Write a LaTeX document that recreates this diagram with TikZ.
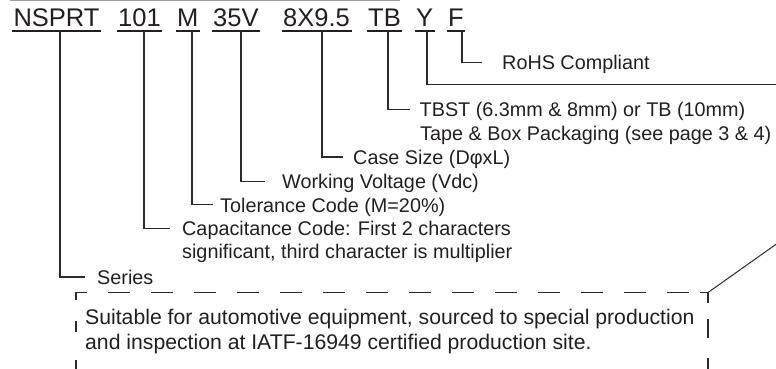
\documentclass[tikz,border=0pt]{standalone}
\usepackage{fontspec}
\setmainfont{Liberation Sans}
\definecolor{ink}{HTML}{231F20}
\definecolor{linec}{HTML}{2B2B2B}
\definecolor{rulegray}{HTML}{A0A0A0}
\begin{document}
\begin{tikzpicture}[x=1pt,y=-1pt,
  code/.style={anchor=base west, inner sep=0pt, font=\fontsize{25.5}{30}\selectfont, text=ink},
  lbl/.style={anchor=base west, inner sep=0pt, font=\fontsize{19.8}{24}\selectfont, text=ink},
  note/.style={anchor=base west, inner sep=0pt, font=\fontsize{21.2}{25}\selectfont, text=ink},
  conn/.style={draw=linec, line width=1.3pt},
  uline/.style={draw=ink, line width=1.3pt},
  boxline/.style={draw=linec, line width=1.3pt},
  thinline/.style={draw=linec, line width=1pt},
]
\useasboundingbox (0,0) rectangle (776,368);
% top rule remnant
\draw[rulegray, line width=1.2pt] (10,0.7) -- (400,0.7);
% part-number codes
\node[code] (c1) at (13.3,26.8) {NSPRT};
\node[code] (c2) at (118,26.8) {101};
\node[code] (c3) at (177,26.8) {M};
\node[code] (c4) at (213,26.8) {35V};
\node[code] (c5) at (283,26.8) {8X9.5};
\node[code] (c6) at (368,26.8) {TB};
\node[code] (c7) at (416,26.8) {Y};
\node[code] (c8) at (448,26.8) {F};
\foreach \c in {c1,c2,c3,c4,c5,c6,c7,c8}{
  \draw[uline] ([shift={(-1,4.2)}]\c.base west) -- ([shift={(1.5,4.2)}]\c.base east);
}
% labels
\node[lbl] (l8) at (502,69) {RoHS Compliant};
\node[lbl] (l6) at (419.5,116.5) {TBST (6.3mm \& 8mm) or TB (10mm)};
\node[lbl] (l6b) at (420,140.5) {Tape \& Box Packaging (see page 3 \& 4)};
\node[lbl] (l5) at (353,164) {Case Size (D{φ}xL)};
\node[lbl] (l4) at (282,188.5) {Working Voltage (Vdc)};
\node[lbl] (l3) at (220,212) {Tolerance Code (M=20\%)};
\node[lbl] (l2) at (182,235.5) {Capacitance Code: First 2 characters};
\node[lbl] (l2b) at (182,258.5) {significant, third character is multiplier};
\node[lbl] (l1) at (97,284) {Series};
\node[note] (n1) at (85,324.6) {Suitable for automotive equipment, sourced to special production};
\node[note] (n2) at (85,349.8) {and inspection at IATF-16949 certified production site.};
% branch points on the underlines and free ends of the connectors
\coordinate (t1) at (60,31);   \coordinate (e1) at (85,277);
\coordinate (t2) at (144,31);  \coordinate (e2) at (170,228.3);
\coordinate (t3) at (192,31);  \coordinate (e3) at (213,204.5);
\coordinate (t4) at (241,31);  \coordinate (e4) at (265,181.7);
\coordinate (t5) at (322,31);  \coordinate (e5) at (343,157);
\coordinate (t6) at (388,31);  \coordinate (e6) at (410,109.3);
\coordinate (t7) at (427,31);  \coordinate (e7) at (800,84.5);
\coordinate (t8) at (462,31);  \coordinate (e8) at (482,62.7);
\foreach \i in {1,...,8}{ \draw[conn] (t\i) |- (e\i); }
% dashed note box
\coordinate (bl) at (76,292.5);
\coordinate (br) at (708,292.5);
\draw[boxline, dash pattern=on 22 off 21, dash phase=11] (bl) -- (br);
\draw[boxline] (87,292.5) -- (bl) -- (76,300);
\draw[boxline] (700,292.5) -- (br) -- (708,303);
\draw[boxline] (76,321) -- (76,332);
\draw[boxline] (76,360) -- (76,372);
\draw[boxline] (708,319) -- (708,338);
\draw[boxline] (708,358) -- (708,372);
% leader from the box
\coordinate (far) at (800,227.3);
\draw[thinline] (br) -- (far);
\end{tikzpicture}
\end{document}
